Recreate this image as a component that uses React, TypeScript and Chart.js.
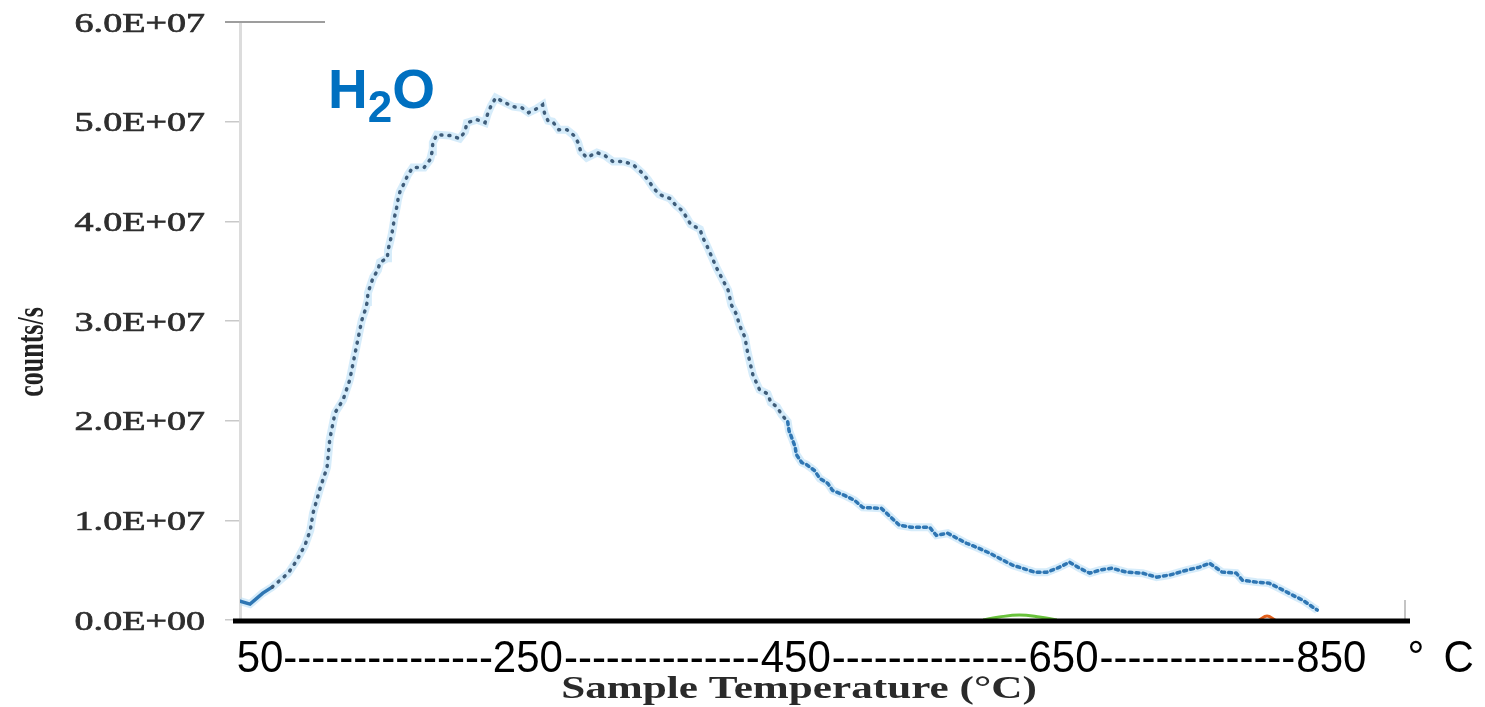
import { useEffect, useRef } from "react";
import { Chart, registerables } from "chart.js";

Chart.register(...registerables);

// ---- data ----
const temperatureC = [
  35, 42.5, 52, 59, 71, 77.5, 83.5, 87.5, 89.5, 95,
  100, 102, 106, 112, 117, 119.5, 122.5, 126, 128.5, 130,
  130.5, 132, 134.5, 138, 139.5, 145, 145.5, 147, 148.5, 149.5,
  150.5, 152, 153, 154.5, 157.5, 160.5, 164, 172.5, 177, 178.5,
  179, 182, 192, 199, 203, 204.5, 212, 218, 220, 222.5,
  226, 233, 239, 245.5, 250.5, 256.5, 261, 262.5, 265, 268.5,
  273, 279, 284.5, 287.5, 289.5, 294, 301.5, 307.5, 313.5, 321.5,
  328.5, 335, 339.5, 343.5, 348, 356, 360.5, 365, 368.5, 371.5,
  378.5, 380.5, 383.5, 391, 399.5, 402, 406, 407.5, 409.5, 412,
  414, 418, 423, 429, 431.5, 436, 439.5, 444, 445, 447,
  449.5, 450.5, 454.5, 458, 464, 468, 474, 477.5, 486.5, 494,
  500, 514, 527.5, 536.5, 550, 555, 563.5, 577.5, 585, 595,
  602, 612, 628.5, 637.5, 647, 654.5, 662, 669.5, 677, 686,
  697, 709, 719.5, 729, 742, 751.5, 759, 768.5, 779, 783.5,
  794, 803.5, 811, 821, 828.5, 836, 839.5,
];

// counts/s in units of 1E+07
const h2oCountsE7 = [
  0.19, 0.16, 0.27, 0.33, 0.47, 0.6, 0.75, 0.9, 1.07, 1.33,
  1.53, 1.81, 2.08, 2.21, 2.41, 2.58, 2.78, 3.01, 3.11, 3.19,
  3.28, 3.34, 3.44, 3.51, 3.59, 3.63, 3.71, 3.79, 3.88, 3.96,
  4.05, 4.14, 4.22, 4.3, 4.38, 4.47, 4.54, 4.54, 4.62, 4.7,
  4.79, 4.87, 4.86, 4.83, 4.9, 4.99, 5.02, 4.99, 5.08, 5.16,
  5.24, 5.19, 5.15, 5.14, 5.09, 5.13, 5.17, 5.08, 5.01, 5.0,
  4.92, 4.92, 4.86, 4.79, 4.7, 4.64, 4.69, 4.66, 4.6, 4.6,
  4.57, 4.49, 4.42, 4.34, 4.27, 4.23, 4.16, 4.11, 4.04, 3.97,
  3.92, 3.84, 3.76, 3.53, 3.31, 3.16, 3.06, 2.98, 2.91, 2.84,
  2.69, 2.46, 2.31, 2.27, 2.18, 2.14, 2.06, 1.99, 1.9, 1.83,
  1.74, 1.66, 1.58, 1.56, 1.5, 1.42, 1.37, 1.3, 1.25, 1.2,
  1.13, 1.12, 0.95, 0.93, 0.93, 0.85, 0.87, 0.77, 0.73, 0.67,
  0.62, 0.55, 0.48, 0.48, 0.53, 0.58, 0.52, 0.47, 0.5, 0.52,
  0.48, 0.47, 0.43, 0.45, 0.5, 0.53, 0.57, 0.48, 0.47, 0.4,
  0.38, 0.37, 0.32, 0.25, 0.2, 0.13, 0.1,
];

const greenTempC = [590, 602, 617, 632, 645];
const greenCountsE7 = [0, 0.03, 0.05, 0.03, 0];
const orangeTempC = [796, 802, 808];
const orangeCountsE7 = [0, 0.04, 0];

const xTickLabels = [50, 250, 450, 650, 850];
const xUnitLabels = ["°", "C"];
const xMin = 35;
const xMax = 905;
const yMin = 0;
const yMax = 6e7;
const yStep = 1e7;
const speciesLabel = ["H", "2", "O"];
const xTitle = "Sample Temperature (°C)";
const yTitle = "counts/s";

const E7 = 1e7;

function fmtSci(v: number): string {
  if (v === 0) return "0.0E+00";
  const exp = Math.floor(Math.log10(v) + 1e-9);
  const m = v / Math.pow(10, exp);
  return `${m.toFixed(1)}E+${String(exp).padStart(2, "0")}`;
}

const decorPlugin = {
  id: "decor",
  afterDatasetsDraw(chart: any) {
    const { ctx, chartArea: ca, scales } = chart;
    const y = scales.y;
    ctx.save();
    const yTop = y.getPixelForValue(yMax);
    ctx.strokeStyle = "#9d9d9d";
    ctx.lineWidth = 2;
    ctx.beginPath();
    ctx.moveTo(ca.left - 15, yTop);
    ctx.lineTo(ca.left + 85, yTop);
    ctx.stroke();
    ctx.strokeStyle = "#c4c4c4";
    ctx.lineWidth = 2;
    ctx.beginPath();
    ctx.moveTo(ca.right, ca.bottom - 20);
    ctx.lineTo(ca.right, ca.bottom);
    ctx.stroke();
    ctx.strokeStyle = "#000";
    ctx.lineWidth = 5;
    ctx.beginPath();
    ctx.moveTo(ca.left - 7, ca.bottom + 1);
    ctx.lineTo(ca.right + 5, ca.bottom + 1);
    ctx.stroke();
    ctx.restore();
  },
  afterDraw(chart: any) {
    const { ctx, chartArea: ca, scales } = chart;
    const x = scales.x;
    const y = scales.y;
    ctx.save();

    // y tick labels (stretched serif, semi-bold)
    ctx.fillStyle = "#2e2e2e";
    ctx.strokeStyle = "#2e2e2e";
    ctx.lineWidth = 0.7;
    ctx.font = '28px "Liberation Serif"';
    ctx.textAlign = "right";
    ctx.textBaseline = "alphabetic";
    for (const t of y.ticks) {
      const py = y.getPixelForValue(t.value);
      ctx.save();
      ctx.translate(ca.left - 35, py + 9.5);
      ctx.scale(1.36, 1);
      ctx.fillText(fmtSci(t.value), 0, 0);
      ctx.strokeText(fmtSci(t.value), 0, 0);
      ctx.restore();
    }

    // y title
    ctx.save();
    ctx.fillStyle = "#222";
    ctx.font = 'bold 26px "Liberation Serif"';
    ctx.textAlign = "center";
    ctx.textBaseline = "alphabetic";
    ctx.translate(ca.left - 197, (ca.top + ca.bottom) / 2 + 31);
    ctx.rotate(-Math.PI / 2);
    ctx.scale(1, 1.45);
    ctx.fillText(yTitle, 0, 0);
    ctx.restore();

    // x labels with dashes
    ctx.save();
    ctx.fillStyle = "#000";
    ctx.font = '42px "Liberation Sans"';
    ctx.textBaseline = "alphabetic";
    const base = ca.bottom + 52;
    const dashW = ctx.measureText("-").width;
    const items = xTickLabels.map((v) => {
      const s = String(v);
      const w = ctx.measureText(s).width;
      return { s, w, cx: x.getPixelForValue(v) };
    });
    const put = (s: string, px: number, align: CanvasTextAlign) => {
      ctx.save();
      ctx.translate(px, base);
      ctx.scale(1, 1.07);
      ctx.textAlign = align;
      ctx.fillText(s, 0, 0);
      ctx.restore();
    };
    items.forEach((it, i) => {
      put(it.s, it.cx, "center");
      if (i < items.length - 1) {
        const nx = items[i + 1];
        const a = it.cx + it.w / 2;
        const b = nx.cx - nx.w / 2;
        const n = Math.max(0, Math.round((b - a) / dashW));
        put("-".repeat(n), (a + b) / 2, "center");
      }
    });
    const last = items[items.length - 1];
    const lastRight = last.cx + last.w / 2;
    put(xUnitLabels[0], lastRight + 41, "left");
    put(xUnitLabels[1], lastRight + 77, "left");
    ctx.restore();

    // x title
    ctx.save();
    ctx.fillStyle = "#2a2a2a";
    ctx.font = 'bold 32px "Liberation Serif"';
    ctx.textAlign = "center";
    ctx.textBaseline = "alphabetic";
    ctx.translate(ca.left + 559, ca.bottom + 78);
    ctx.scale(1.35, 1);
    ctx.fillText(xTitle, 0, 0);
    ctx.restore();

    // H2O label
    ctx.save();
    ctx.fillStyle = "#0070C0";
    ctx.textAlign = "left";
    ctx.textBaseline = "alphabetic";
    const hx = ca.left + 88;
    const hb = ca.top + 86;
    ctx.font = 'bold 55px "Liberation Sans"';
    ctx.fillText(speciesLabel[0], hx, hb);
    const wH = ctx.measureText(speciesLabel[0]).width;
    ctx.font = 'bold 44px "Liberation Sans"';
    ctx.fillText(speciesLabel[1], hx + wH, hb + 14);
    const w2 = ctx.measureText(speciesLabel[1]).width;
    ctx.font = 'bold 55px "Liberation Sans"';
    ctx.fillText(speciesLabel[2], hx + wH + w2, hb);
    ctx.restore();

    ctx.restore();
  },
};

export default function App() {
  const ref = useRef<HTMLCanvasElement | null>(null);

  useEffect(() => {
    if (!ref.current) return;
    const mainData = temperatureC.map((t, i) => ({ x: t, y: h2oCountsE7[i] * E7 }));
    const greenData = greenTempC.map((t, i) => ({ x: t, y: greenCountsE7[i] * E7 }));
    const orangeData = orangeTempC.map((t, i) => ({ x: t, y: orangeCountsE7[i] * E7 }));
    const lowerZone = (c: any) => c.p0.parsed.x >= 440;
    const startZone = (c: any) => c.p0.parsed.x < 55;

    const chart = new Chart(ref.current, {
      type: "line",
      data: {
        datasets: [
          {
            label: "H2O",
            data: mainData,
            borderColor: "#3f5d7a",
            borderWidth: 3.5,
            borderDash: [1, 7],
            borderCapStyle: "round",
            pointRadius: 0,
            tension: 0,
            order: 1,
            segment: {
              borderColor: (c: any) =>
                lowerZone(c) || startZone(c) ? "#2f76b3" : "#3f5d7a",
              borderDash: (c: any) =>
                startZone(c) ? [] : lowerZone(c) ? [3, 4] : [1, 7],
            },
          } as any,
          {
            label: "H2O halo",
            data: mainData,
            borderColor: "rgba(180,220,245,0.55)",
            borderWidth: 8,
            pointRadius: 0,
            tension: 0,
            order: 3,
          },
          {
            label: "green",
            data: greenData,
            borderColor: "#69c23b",
            borderWidth: 3,
            pointRadius: 0,
            tension: 0.4,
            order: 2,
          },
          {
            label: "orange",
            data: orangeData,
            borderColor: "#e2601c",
            borderWidth: 3,
            pointRadius: 0,
            tension: 0.4,
            order: 2,
          },
        ],
      },
      options: {
        animation: false,
        responsive: true,
        maintainAspectRatio: false,
        layout: { padding: { top: 22, right: 80, left: 0, bottom: 0 } },
        plugins: {
          legend: { display: false },
          tooltip: { enabled: false },
        },
        scales: {
          x: {
            type: "linear",
            min: xMin,
            max: xMax,
            ticks: { display: false },
            grid: { display: false },
            border: { display: false },
            afterFit: (s: any) => {
              s.height = 87;
            },
          },
          y: {
            min: yMin,
            max: yMax,
            ticks: { display: false, stepSize: yStep },
            grid: {
              drawOnChartArea: false,
              drawTicks: true,
              tickLength: 15,
              color: "#c9c9c9",
              lineWidth: 1.5,
            },
            border: { display: true, color: "#dcdcdc", width: 3 },
            afterFit: (s: any) => {
              s.width = 240;
            },
          },
        },
      },
      plugins: [decorPlugin],
    });
    return () => chart.destroy();
  }, []);

  return (
    <div style={{ position: "fixed", left: 0, top: 0, width: 1485, height: 707, background: "#fff" }}>
      <canvas ref={ref} />
    </div>
  );
}
